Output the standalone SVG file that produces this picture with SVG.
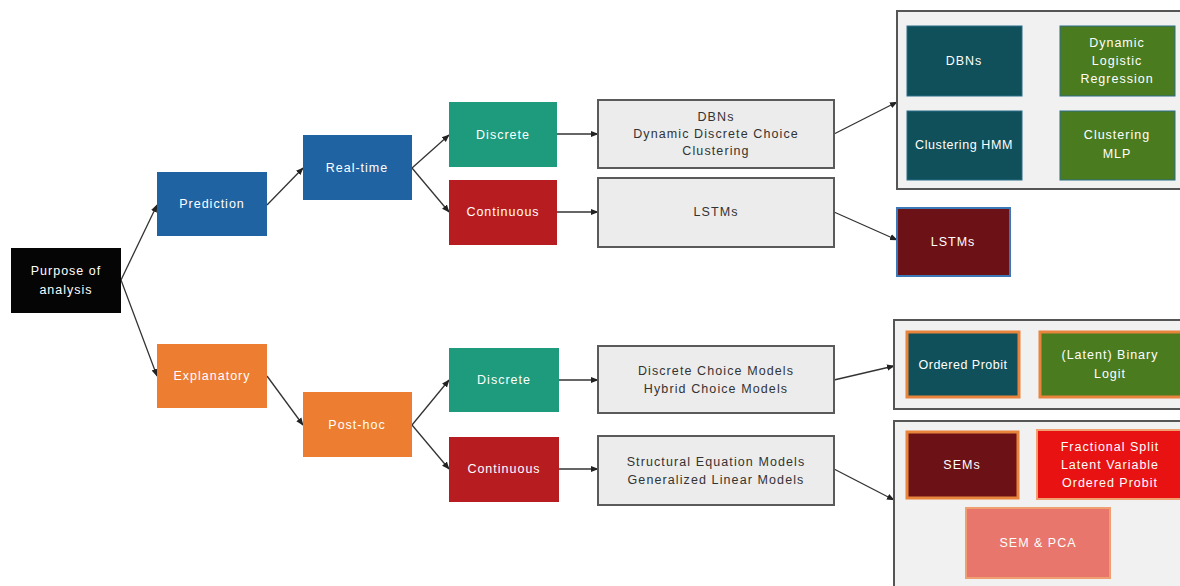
<svg xmlns="http://www.w3.org/2000/svg" width="1180" height="586" viewBox="0 0 1180 586">
  <defs>
    <marker id="arr" viewBox="0 0 10 10" refX="9" refY="5" markerWidth="6" markerHeight="6" orient="auto">
      <path d="M0,1 L10,5 L0,9 z" fill="#222"/>
    </marker>
    <style>
      text { font-family: "Liberation Sans", Arial, sans-serif; font-size: 12.5px; letter-spacing: 1px; text-anchor: middle; dominant-baseline: central; }
      .w { fill: #ffffff; }
      .d { fill: #333333; font-size: 12.5px; letter-spacing: 1.1px; }
      .conn line { stroke: #333; stroke-width: 1.3; fill: none; marker-end: url(#arr); }
      .list { fill: #ececec; stroke: #5a5a5a; stroke-width: 2; }
      .grp { fill: #f1f1f1; stroke: #555; stroke-width: 2; }
    </style>
  </defs>

  <rect width="1180" height="586" fill="#ffffff"/>

  <!-- connectors -->
  <g class="conn">
    <line x1="121" y1="280" x2="157" y2="205"/>
    <line x1="121" y1="280" x2="157" y2="376"/>
    <line x1="267" y1="205" x2="303" y2="168"/>
    <line x1="267" y1="376" x2="303" y2="425"/>
    <line x1="412" y1="168" x2="449" y2="135"/>
    <line x1="412" y1="168" x2="449" y2="212"/>
    <line x1="412" y1="425" x2="449" y2="380"/>
    <line x1="412" y1="425" x2="449" y2="469"/>
    <line x1="557" y1="134" x2="598" y2="134"/>
    <line x1="557" y1="212" x2="598" y2="212"/>
    <line x1="559" y1="380" x2="598" y2="380"/>
    <line x1="559" y1="469" x2="598" y2="469"/>
    <line x1="834" y1="134" x2="897" y2="102"/>
    <line x1="834" y1="212" x2="897" y2="240"/>
    <line x1="834" y1="380" x2="894" y2="366"/>
    <line x1="834" y1="469" x2="894" y2="500"/>
  </g>

  <g id="purpose">
    <rect x="11" y="248" width="110" height="65" fill="#050505"/>
    <text class="w" x="66" y="271">Purpose of</text>
    <text class="w" x="66" y="290">analysis</text>
  </g>
  <g id="prediction">
    <rect x="157" y="172" width="110" height="64" fill="#1f63a3"/>
    <text class="w" x="212" y="204">Prediction</text>
  </g>
  <g id="realtime">
    <rect x="303" y="135" width="109" height="65" fill="#1f63a3"/>
    <text class="w" x="357" y="168">Real-time</text>
  </g>
  <g id="discrete-rt">
    <rect x="449" y="102" width="108" height="65" fill="#1d9b7c"/>
    <text class="w" x="503" y="135">Discrete</text>
  </g>
  <g id="continuous-rt">
    <rect x="449" y="180" width="108" height="65" fill="#b71c21"/>
    <text class="w" x="503" y="212">Continuous</text>
  </g>
  <g id="list-rt-discrete">
    <rect class="list" x="598" y="100" width="236" height="68"/>
    <text class="d" x="716" y="117">DBNs</text>
    <text class="d" x="716" y="134">Dynamic Discrete Choice</text>
    <text class="d" x="716" y="151">Clustering</text>
  </g>
  <g id="list-rt-continuous">
    <rect class="list" x="598" y="178" width="236" height="69"/>
    <text class="d" x="716" y="212">LSTMs</text>
  </g>

  <g id="group-rt-discrete">
    <rect class="grp" x="897" y="11" width="290" height="178"/>
    <g id="dbns">
      <rect x="907" y="26" width="115" height="70" fill="#10505a" stroke="#2a6f8a" stroke-width="1"/>
      <text class="w" x="964" y="61">DBNs</text>
    </g>
    <g id="dlr">
      <rect x="1060" y="26" width="115" height="70" fill="#4b7b1f" stroke="#2a6f8a" stroke-width="1"/>
      <text class="w" x="1117" y="43">Dynamic</text>
      <text class="w" x="1117" y="61">Logistic</text>
      <text class="w" x="1117" y="79">Regression</text>
    </g>
    <g id="clust-hmm">
      <rect x="907" y="111" width="115" height="69" fill="#10505a" stroke="#2a6f8a" stroke-width="1"/>
      <text class="w" x="964" y="145" style="letter-spacing:0.6px">Clustering HMM</text>
    </g>
    <g id="clust-mlp">
      <rect x="1060" y="111" width="115" height="69" fill="#4b7b1f" stroke="#2a6f8a" stroke-width="1"/>
      <text class="w" x="1117" y="135">Clustering</text>
      <text class="w" x="1117" y="154">MLP</text>
    </g>
  </g>

  <g id="lstms">
    <rect x="897" y="208" width="113" height="68" fill="#6c1216" stroke="#3a78b8" stroke-width="2"/>
    <text class="w" x="953" y="242">LSTMs</text>
  </g>

  <g id="explanatory">
    <rect x="157" y="344" width="110" height="64" fill="#ec7d31"/>
    <text class="w" x="212" y="376">Explanatory</text>
  </g>
  <g id="posthoc">
    <rect x="303" y="392" width="109" height="65" fill="#ec7d31"/>
    <text class="w" x="357" y="425">Post-hoc</text>
  </g>
  <g id="discrete-ph">
    <rect x="449" y="348" width="110" height="64" fill="#1d9b7c"/>
    <text class="w" x="504" y="380">Discrete</text>
  </g>
  <g id="continuous-ph">
    <rect x="449" y="437" width="110" height="65" fill="#b71c21"/>
    <text class="w" x="504" y="469">Continuous</text>
  </g>
  <g id="list-ph-discrete">
    <rect class="list" x="598" y="346" width="236" height="67"/>
    <text class="d" x="716" y="371">Discrete Choice Models</text>
    <text class="d" x="716" y="389">Hybrid Choice Models</text>
  </g>
  <g id="list-ph-continuous">
    <rect class="list" x="598" y="436" width="236" height="69"/>
    <text class="d" x="716" y="462">Structural Equation Models</text>
    <text class="d" x="716" y="480">Generalized Linear Models</text>
  </g>

  <g id="group-ph-discrete">
    <rect class="grp" x="894" y="320" width="292" height="89"/>
    <g id="ordered-probit">
      <rect x="907" y="332" width="112" height="65" fill="#10505a" stroke="#e8843c" stroke-width="3"/>
      <text class="w" x="963" y="365" style="letter-spacing:0.5px">Ordered Probit</text>
    </g>
    <g id="binary-logit">
      <rect x="1040" y="332" width="145" height="65" fill="#4b7b1f" stroke="#e8843c" stroke-width="3"/>
      <text class="w" x="1110" y="355">(Latent) Binary</text>
      <text class="w" x="1110" y="374">Logit</text>
    </g>
  </g>

  <g id="group-ph-continuous">
    <rect class="grp" x="894" y="421" width="292" height="170"/>
    <g id="sems">
      <rect x="907" y="432" width="111" height="66" fill="#6c1216" stroke="#e8843c" stroke-width="3"/>
      <text class="w" x="962" y="465">SEMs</text>
    </g>
    <g id="fractional">
      <rect x="1037" y="430" width="148" height="69" fill="#e81212" stroke="#f0a070" stroke-width="2"/>
      <text class="w" x="1110" y="447">Fractional Split</text>
      <text class="w" x="1110" y="465">Latent Variable</text>
      <text class="w" x="1110" y="483">Ordered Probit</text>
    </g>
    <g id="sem-pca">
      <rect x="966" y="508" width="144" height="70" fill="#e8766c" stroke="#f0a070" stroke-width="2"/>
      <text class="w" x="1038" y="543">SEM &amp; PCA</text>
    </g>
  </g>
</svg>
